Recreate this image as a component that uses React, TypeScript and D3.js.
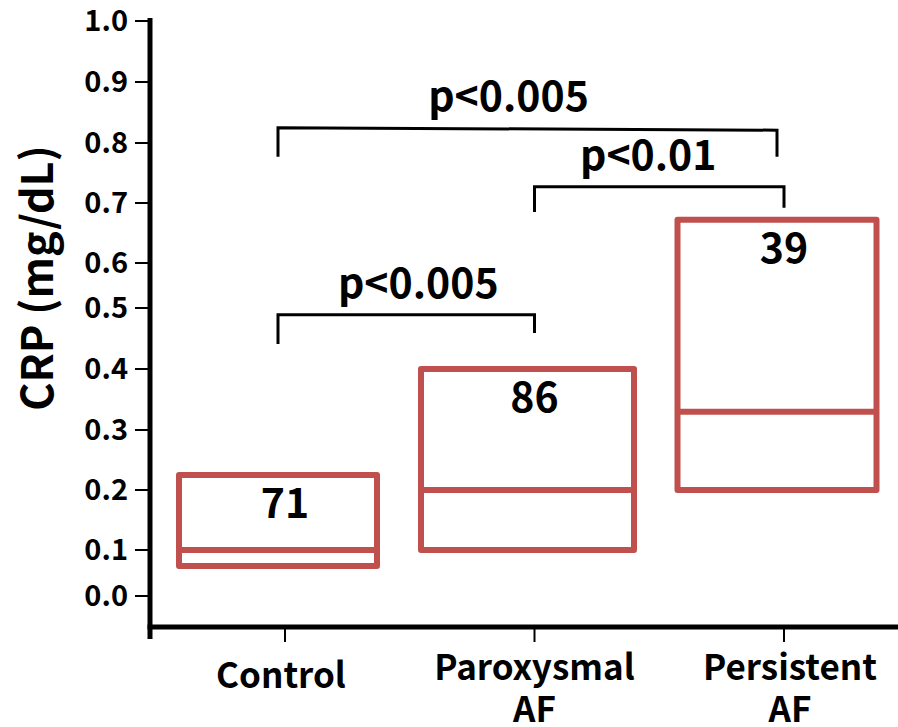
import React from "react";
import * as d3 from "d3";

const categories = ["Control", "Paroxysmal AF", "Persistent AF"];
const categoryLines = [["Control"], ["Paroxysmal", "AF"], ["Persistent", "AF"]];
const boxLow = [0.065, 0.1, 0.2];
const boxMedian = [0.1, 0.2, 0.33];
const boxHigh = [0.225, 0.4, 0.672];
const counts = ["71", "86", "39"];
const yTicks = [0.0, 0.1, 0.2, 0.3, 0.4, 0.5, 0.6, 0.7, 0.8, 0.9, 1.0];
const tickPixels = [596, 550, 490, 430, 369, 308, 263, 203, 143, 82, 21];
const brackets = [
  { from: 0, to: 2, label: "p<0.005", yLeft: 0.825, yRight: 0.821, legLeft: 0.777, legRight: 0.777, fromBox: true, toBox: true, dx: -19 },
  { from: 1, to: 2, label: "p<0.01", yLeft: 0.727, yRight: 0.727, legLeft: 0.685, legRight: 0.692, fromBox: false, toBox: false, dx: -11 },
  { from: 0, to: 1, label: "p<0.005", yLeft: 0.489, yRight: 0.489, legLeft: 0.441, legRight: 0.459, fromBox: true, toBox: false, dx: 12 },
];

const W = 898;
const H = 727;
const FONT = "'Noto Sans CJK KR', 'Noto Sans', sans-serif";
const RED = "#C0504D";
const boxWidths = [198, 213, 199];
const labelDx = [-4, 0, 6];

export default function App() {
  const y = d3.scaleLinear().domain(yTicks).range(tickPixels);
  const x = d3.scalePoint<string>().domain(categories).range([285, 784]);
  const boxShift = -7;
  const axisX = 150;
  const axisY = 627;

  return (
    <svg width={W} height={H} style={{ position: "absolute", left: 0, top: 0, display: "block", background: "#fff" }} fontFamily={FONT}>
      {/* y axis */}
      <line x1={axisX} x2={axisX} y1={18} y2={axisY + 12} stroke="#000" strokeWidth={5} />
      {yTicks.map((t) => (
        <g key={t}>
          <line x1={axisX - 15} x2={axisX} y1={y(t)} y2={y(t)} stroke="#000" strokeWidth={2} />
          <text x={axisX - 22} y={y(t)} dy="0.36em" textAnchor="end" fontSize={29} fontWeight="bold">{t.toFixed(1)}</text>
        </g>
      ))}
      <text transform={`translate(53, 278) rotate(-90)`} textAnchor="middle" fontSize={43} fontWeight="bold">CRP (mg/dL)</text>

      {/* x axis */}
      <line x1={axisX - 2.5} x2={W} y1={axisY} y2={axisY} stroke="#000" strokeWidth={5} />
      {categories.map((c, i) => (
        <g key={c}>
          <line x1={x(c)!} x2={x(c)!} y1={axisY} y2={axisY + 15} stroke="#000" strokeWidth={2} />
          {categoryLines[i].map((ln, j) => (
            <text key={j} x={x(c)! + labelDx[i]} y={(i === 0 ? 688 : 680) + j * 42} textAnchor="middle" fontSize={35} fontWeight="bold">{ln}</text>
          ))}
        </g>
      ))}

      {/* boxes */}
      {categories.map((c, i) => {
        const cx = x(c)! + boxShift;
        const bw = boxWidths[i];
        return (
          <g key={c}>
            <rect x={cx - bw / 2} y={y(boxHigh[i])} width={bw} height={y(boxLow[i]) - y(boxHigh[i])} fill="none" stroke={RED} strokeWidth={6} strokeLinejoin="round" />
            <line x1={cx - bw / 2} x2={cx + bw / 2} y1={y(boxMedian[i])} y2={y(boxMedian[i])} stroke={RED} strokeWidth={6} />
            <text x={x(c)!} y={y(boxHigh[i]) + 43} textAnchor="middle" fontSize={41} fontWeight="bold">{counts[i]}</text>
          </g>
        );
      })}

      {/* brackets */}
      {brackets.map((b, k) => {
        const x1 = x(categories[b.from])! + (b.fromBox ? boxShift : 0);
        const x2 = x(categories[b.to])! + (b.toBox ? boxShift : 0);
        const path = `M${x1},${y(b.legLeft)} L${x1},${y(b.yLeft)} L${x2},${y(b.yRight)} L${x2},${y(b.legRight)}`;
        return (
          <g key={k}>
            <path d={path} fill="none" stroke="#000" strokeWidth={3} />
            <text x={(x1 + x2) / 2 + b.dx} y={Math.min(y(b.yLeft), y(b.yRight)) - 17} textAnchor="middle" fontSize={41} fontWeight="bold">{b.label}</text>
          </g>
        );
      })}
    </svg>
  );
}
